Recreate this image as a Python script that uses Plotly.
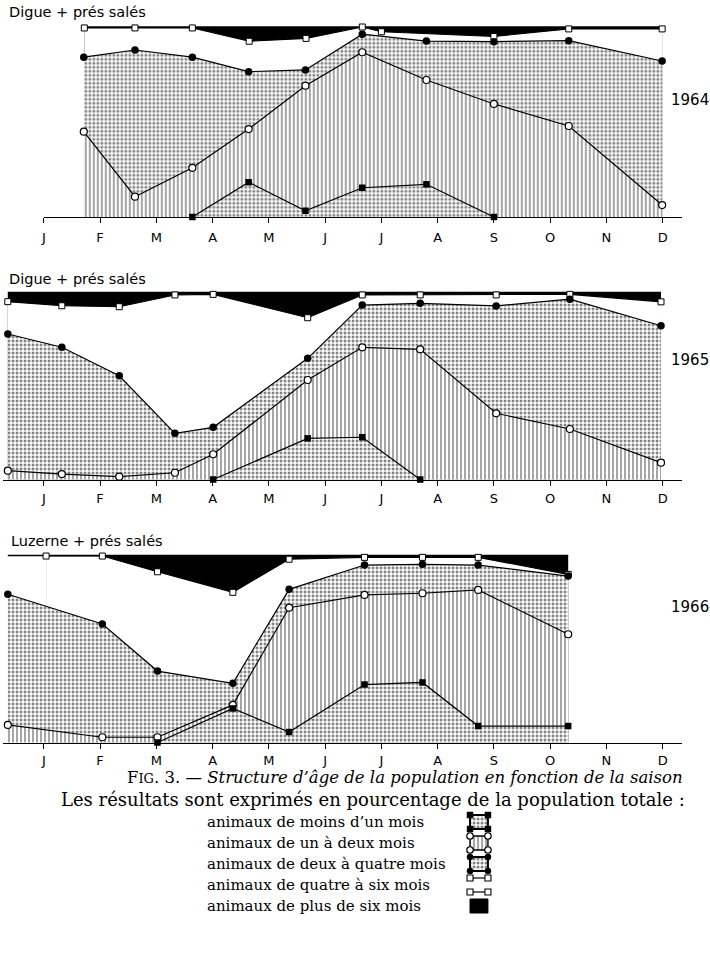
import plotly.graph_objects as go

W, H = 710, 971
MONTHS = ["J", "F", "M", "A", "M", "J", "J", "A", "S", "O", "N", "D"]

# ---- 1964 : Digue + prés salés (cumulative % of population, month units J=0) ----
dates64 = [0.71, 1.62, 2.64, 3.64, 4.65, 5.66, 6.80, 8.00, 9.33, 10.99]
sqdates64 = [0.72, 1.62, 2.64, 3.65, 4.66, 5.66, 6.00, 8.00, 9.33, 10.99]
sq64 = [99.5, 99.5, 99.5, 92.5, 94.0, 100.0, 97.5, 95.0, 99.0, 99.0]     # < 6 months
fc64 = [84.1, 87.9, 84.1, 76.5, 77.4, 96.2, 92.6, 92.3, 92.8, 82.1]     # < 4 months
oc64 = [44.9, 10.7, 25.9, 46.3, 69.1, 86.7, 72.1, 59.5, 47.9, 6.3]      # < 2 months
fs64 = [None, None, 0, 18.3, 3.3, 15.4, 17.2, 0, None, None]            # < 1 month

# ---- 1965 : Digue + prés salés ----
dates65 = [-0.64, 0.32, 1.34, 2.33, 3.01, 4.69, 5.66, 6.69, 8.04, 9.35, 10.97]
sqdates65 = dates65
sq65 = [95.1, 92.9, 92.4, 98.7, 99.0, 86.5, 98.7, 98.7, 98.7, 99.0, 95.0]
fc65 = [77.8, 70.7, 55.5, 24.7, 27.9, 64.8, 93.3, 94.2, 92.8, 96.4, 82.2]
oc65 = [4.7, 2.9, 1.5, 3.6, 13.5, 53.2, 70.7, 69.6, 35.4, 27.0, 9.0]
fs65 = [None, None, None, None, 0, 22.0, 22.6, 0, None, None, None]

# ---- 1966 : Luzerne + prés salés ----
dates66 = [-0.64, 1.04, 2.02, 3.36, 4.36, 5.70, 6.73, 7.72, 9.32]
sqdates66 = [0.04, 1.04, 2.02, 3.36, 4.36, 5.70, 6.73, 7.72, 9.32]
sq66 = [99.7, 99.7, 91.3, 80.3, 98.0, 99.0, 99.0, 99.0, 89.9]
fc66 = [79.3, 63.4, 38.2, 31.7, 81.9, 94.9, 95.3, 94.9, 89.0]
oc66 = [9.4, 2.8, 2.8, 20.1, 72.1, 78.9, 79.8, 81.6, 57.9]
fs66 = [None, None, 0, 18.2, 5.6, 31.0, 32.1, 8.8, 8.8]

TITLES = ["Digue + prés salés", "Digue + prés salés", "Luzerne + prés salés"]
YEARS = ["1964", "1965", "1966"]

LEGEND_LABELS = [
    "animaux de moins d\u2019un mois",
    "animaux de un à deux mois",
    "animaux de deux à quatre mois",
    "animaux de quatre à six mois",
    "animaux de plus de six mois",
]

# ---- layout geometry (pixels) ----
PX_PER_MONTH = 56.5
X_JAN = 41.0
X_END = 682.0
PANELS = [
    dict(base=217.0, top=27.0, xstart=41.0, title_y=12, year_y=100, standoff=3),
    dict(base=479.5, top=292.5, xstart=0.0, title_y=279, year_y=360, standoff=2),
    dict(base=742.5, top=555.5, xstart=0.0, title_y=541, year_y=607, standoff=1),
]
YMAX = 103.0

DOTS = dict(shape=".", size=4, solidity=0.45, fgcolor="black", bgcolor="white")
VLINES = dict(shape="|", size=4, solidity=0.35, fgcolor="black", bgcolor="white")

fig = go.Figure()


def clean(xs, ys):
    px, py = [], []
    for a, b in zip(xs, ys):
        if b is not None:
            px.append(a)
            py.append(b)
    return px, py


data = [
    (dates64, sqdates64, sq64, fc64, oc64, fs64),
    (dates65, sqdates65, sq65, fc65, oc65, fs65),
    (dates66, sqdates66, sq66, fc66, oc66, fs66),
]

layout_axes = {}
for i, (dates, sqd, sq, fc, oc, fs) in enumerate(data):
    n = i + 1
    xa = "x" if n == 1 else f"x{n}"
    ya = "y" if n == 1 else f"y{n}"
    P = PANELS[i]
    common = dict(xaxis=xa, yaxis=ya, hoverinfo="skip", showlegend=False, cliponaxis=False)

    # black : > 6 months (from 100 down)
    fig.add_trace(go.Scatter(x=sqd, y=[100] * len(sqd), mode="lines", line=dict(width=0),
                             fill="tozeroy", fillcolor="black", **common))
    # white : 4-6 months
    fig.add_trace(go.Scatter(x=sqd, y=sq, mode="lines", line=dict(width=0),
                             fill="tozeroy", fillcolor="white", **common))
    # dotted : 2-4 months
    fig.add_trace(go.Scatter(x=dates, y=fc, mode="lines", line=dict(width=0),
                             fill="tozeroy", fillcolor="white", fillpattern=DOTS, **common))
    # vertical lines : 1-2 months
    fig.add_trace(go.Scatter(x=dates, y=oc, mode="lines", line=dict(width=0),
                             fill="tozeroy", fillcolor="white", fillpattern=VLINES, **common))
    # dotted : < 1 month
    fx, fy = clean(dates, fs)
    fig.add_trace(go.Scatter(x=fx, y=fy, mode="lines", line=dict(width=0),
                             fill="tozeroy", fillcolor="white", fillpattern=DOTS, **common))

    # top 100% line
    fig.add_trace(go.Scatter(x=[dates[0], dates[-1]], y=[100, 100], mode="lines",
                             line=dict(color="black", width=1.6), **common))
    # series lines and markers
    fig.add_trace(go.Scatter(x=sqd, y=sq, mode="lines+markers",
                             line=dict(color="black", width=1.1),
                             marker=dict(symbol="square", size=6, color="white",
                                         line=dict(color="black", width=1)), **common))
    fig.add_trace(go.Scatter(x=dates, y=fc, mode="lines+markers",
                             line=dict(color="black", width=1.2),
                             marker=dict(symbol="circle", size=7.5, color="black"), **common))
    fig.add_trace(go.Scatter(x=dates, y=oc, mode="lines+markers",
                             line=dict(color="black", width=1.2),
                             marker=dict(symbol="circle", size=7, color="white",
                                         line=dict(color="black", width=1.2)), **common))
    fig.add_trace(go.Scatter(x=fx, y=fy, mode="lines+markers",
                             line=dict(color="black", width=1.2),
                             marker=dict(symbol="square", size=6.5, color="black"), **common))

    # axes
    x0px = P["xstart"]
    key_x = "xaxis" if n == 1 else f"xaxis{n}"
    key_y = "yaxis" if n == 1 else f"yaxis{n}"
    span = P["base"] - P["top"]
    dom_top_px = P["base"] - span * YMAX / 100.0
    layout_axes[key_x] = dict(
        domain=[x0px / W, X_END / W],
        range=[(x0px - X_JAN) / PX_PER_MONTH, (X_END - X_JAN) / PX_PER_MONTH],
        anchor=ya, showgrid=False, zeroline=False,
        showline=True, linecolor="black", linewidth=1.3,
        ticks="outside", ticklen=5, tickwidth=1.2, tickcolor="black",
        tickvals=list(range(12)), ticktext=MONTHS,
        tickfont=dict(family="DejaVu Sans", size=13, color="black"),
        ticklabelstandoff=P["standoff"],
    )
    layout_axes[key_y] = dict(
        domain=[1 - P["base"] / H, 1 - dom_top_px / H],
        range=[0, YMAX], anchor=xa, visible=False, showgrid=False, zeroline=False,
    )

# ---- legend swatches (own small axes in pixel units) ----
LEG_TEXT_X = 203
LEG_Y0 = 822
LEG_DY = 21
SW_X0, SW_X1 = 469, 487
SW_H = 14
leg_x_dom = (455, 500)
leg_y_dom = (805, 920)
lc = dict(xaxis="x4", yaxis="y4", hoverinfo="skip", showlegend=False, cliponaxis=False)
for k in range(5):
    yc = LEG_Y0 + k * LEG_DY
    yt, yb = yc - SW_H / 2, yc + SW_H / 2
    rx = [SW_X0, SW_X1, SW_X1, SW_X0, SW_X0]
    ry = [yt, yt, yb, yb, yt]
    cx = [SW_X0, SW_X1, SW_X1, SW_X0]
    cy = [yt, yt, yb, yb]
    if k in (0, 2):
        fig.add_trace(go.Scatter(x=rx, y=ry, mode="lines", fill="toself", fillcolor="white",
                                 fillpattern=DOTS, line=dict(color="black", width=2), **lc))
        fig.add_trace(go.Scatter(x=cx, y=cy, mode="markers",
                                 marker=dict(symbol="square" if k == 0 else "circle",
                                             size=6.5, color="black"), **lc))
    elif k == 1:
        fig.add_trace(go.Scatter(x=rx, y=ry, mode="lines", fill="toself", fillcolor="white",
                                 fillpattern=VLINES, line=dict(color="black", width=1.4), **lc))
        fig.add_trace(go.Scatter(x=cx, y=cy, mode="markers",
                                 marker=dict(symbol="circle", size=6.5, color="white",
                                             line=dict(color="black", width=1.2)), **lc))
    elif k == 3:
        fig.add_trace(go.Scatter(x=[SW_X0, SW_X1, None, SW_X0, SW_X1], y=[yt, yt, None, yb, yb],
                                 mode="lines", line=dict(color="black", width=1.2), **lc))
        fig.add_trace(go.Scatter(x=cx, y=cy, mode="markers",
                                 marker=dict(symbol="square", size=6, color="white",
                                             line=dict(color="black", width=1.1)), **lc))
    else:
        fig.add_trace(go.Scatter(x=rx, y=ry, mode="lines", fill="toself", fillcolor="black",
                                 line=dict(color="black", width=1), **lc))

layout_axes["xaxis4"] = dict(domain=[leg_x_dom[0] / W, leg_x_dom[1] / W], range=list(leg_x_dom),
                             anchor="y4", visible=False)
layout_axes["yaxis4"] = dict(domain=[1 - leg_y_dom[1] / H, 1 - leg_y_dom[0] / H],
                             range=[leg_y_dom[1], leg_y_dom[0]], anchor="x4", visible=False)

# ---- annotations ----
ann = []
for i, P in enumerate(PANELS):
    ann.append(dict(x=(4 if i < 2 else 6) / W, y=1 - P["title_y"] / H, xref="paper", yref="paper",
                    text=TITLES[i], showarrow=False, xanchor="left", yanchor="middle",
                    font=dict(family="DejaVu Sans", size=14.5, color="black")))
    ann.append(dict(x=690 / W, y=1 - P["year_y"] / H, xref="paper", yref="paper",
                    text=YEARS[i], showarrow=False, xanchor="center", yanchor="middle",
                    font=dict(family="DejaVu Sans", size=15, color="black")))

ann.append(dict(x=404 / W, y=1 - 777 / H, xref="paper", yref="paper", showarrow=False,
                xanchor="center", yanchor="middle",
                text="F<span style='font-size:13px'>IG</span>. 3. \u2014 <i>Structure d\u2019âge de la population en fonction de la saison</i>",
                font=dict(family="DejaVu Serif", size=16.5, color="black")))
ann.append(dict(x=372 / W, y=1 - 799 / H, xref="paper", yref="paper", showarrow=False,
                xanchor="center", yanchor="middle",
                text="Les résultats sont exprimés en pourcentage de la population totale :",
                font=dict(family="DejaVu Serif", size=18, color="black")))
for k, lab in enumerate(LEGEND_LABELS):
    ann.append(dict(x=LEG_TEXT_X / W, y=1 - (LEG_Y0 + k * LEG_DY) / H, xref="paper", yref="paper",
                    showarrow=False, xanchor="left", yanchor="middle", text=lab,
                    font=dict(family="DejaVu Serif", size=15, color="black")))

fig.update_layout(
    width=W, height=H, margin=dict(l=0, r=0, t=0, b=0),
    paper_bgcolor="white", plot_bgcolor="rgba(0,0,0,0)",
    showlegend=False, annotations=ann, **layout_axes,
)

fig.write_html("out.html", config={"displayModeBar": False},
               post_script="document.body.style.margin='0px';")
